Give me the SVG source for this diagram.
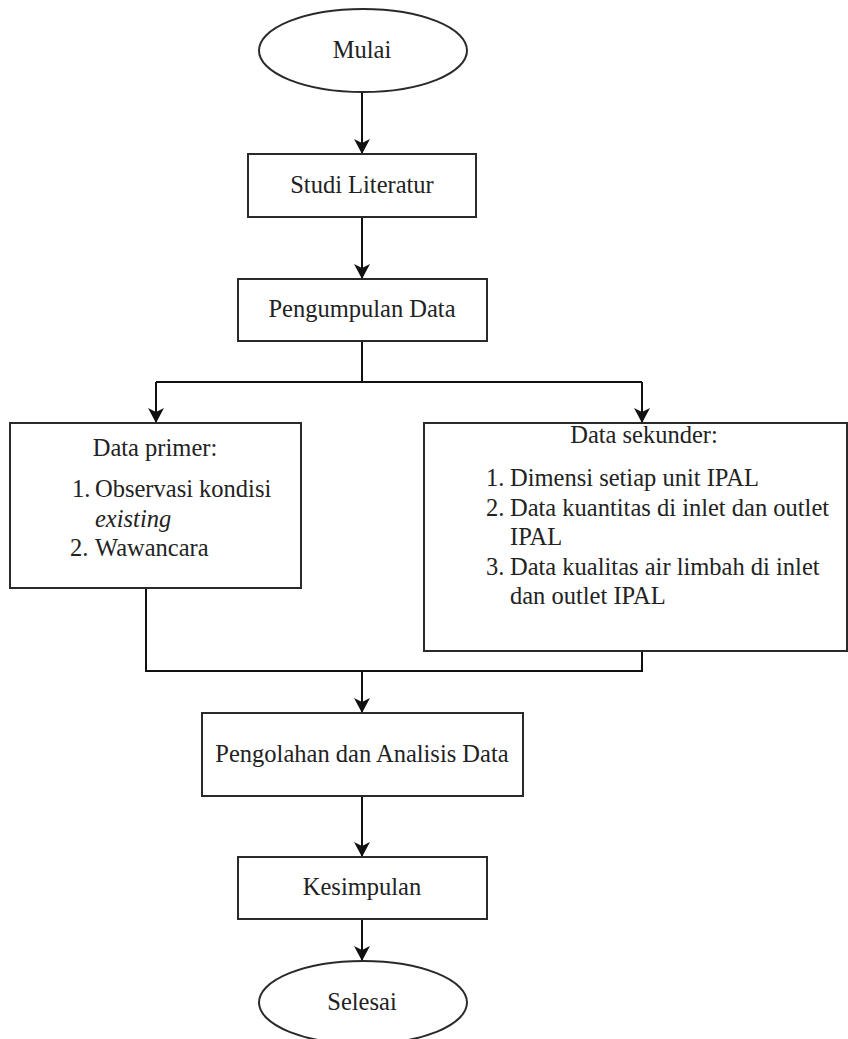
<svg xmlns="http://www.w3.org/2000/svg" width="848" height="1039" viewBox="0 0 848 1039">
  <style>
    .shape { fill: #ffffff; stroke: #2a2a2a; stroke-width: 2; }
    .wire { fill: none; stroke: #111111; stroke-width: 2; }
    .lbl { font-size: 24.5px; fill: #222222; }
    .mid { text-anchor: middle; }
  </style>
  <defs>
    <marker id="head" markerUnits="userSpaceOnUse" markerWidth="16" markerHeight="18" refX="15" refY="8" orient="auto">
      <path d="M0,0 L15,8 L0,16 L4,8 Z" fill="#111111"/>
    </marker>
  </defs>
  <rect width="848" height="1039" fill="#ffffff"/>

  <!-- connectors -->
  <g id="connectors">
    <line class="wire" x1="362" y1="92" x2="362" y2="154" marker-end="url(#head)"/>
    <line class="wire" x1="362" y1="217" x2="362" y2="279" marker-end="url(#head)"/>
    <polyline class="wire" points="362,341 362,382"/>
    <polyline class="wire" points="156,382 642,382"/>
    <line class="wire" x1="156" y1="382" x2="156" y2="423" marker-end="url(#head)"/>
    <line class="wire" x1="642" y1="382" x2="642" y2="423" marker-end="url(#head)"/>
    <polyline class="wire" points="146,588 146,671 642,671 642,651"/>
    <line class="wire" x1="362" y1="671" x2="362" y2="713" marker-end="url(#head)"/>
    <line class="wire" x1="362" y1="796" x2="362" y2="857" marker-end="url(#head)"/>
    <line class="wire" x1="362" y1="919" x2="362" y2="961" marker-end="url(#head)"/>
  </g>

  <g font-family="Liberation Serif, Times New Roman, DejaVu Serif, serif">
    <g id="mulai">
      <ellipse class="shape" cx="363" cy="50.5" rx="104" ry="41.5"/>
      <text class="lbl mid" x="362" y="58">Mulai</text>
    </g>

    <g id="studi-literatur">
      <rect class="shape" x="248" y="154" width="228" height="63"/>
      <text class="lbl mid" x="362" y="193">Studi Literatur</text>
    </g>

    <g id="pengumpulan-data">
      <rect class="shape" x="238" y="279" width="249" height="62"/>
      <text class="lbl mid" x="362" y="317">Pengumpulan Data</text>
    </g>

    <g id="data-primer">
      <rect class="shape" x="10" y="423" width="291" height="165"/>
      <text class="lbl mid" x="155" y="456">Data primer:</text>
      <text class="lbl" x="72" y="497">1.</text>
      <text class="lbl" x="95" y="497">Observasi kondisi</text>
      <text class="lbl" x="95" y="527" font-style="italic">existing</text>
      <text class="lbl" x="70" y="556">2.</text>
      <text class="lbl" x="95" y="556">Wawancara</text>
    </g>

    <g id="data-sekunder">
      <rect class="shape" x="424" y="423" width="423" height="228"/>
      <text class="lbl mid" x="644" y="443">Data sekunder:</text>
      <text class="lbl" x="486" y="486">1.</text>
      <text class="lbl" x="510" y="486">Dimensi setiap unit IPAL</text>
      <text class="lbl" x="486" y="516">2.</text>
      <text class="lbl" x="510" y="516">Data kuantitas di inlet dan outlet</text>
      <text class="lbl" x="510" y="545">IPAL</text>
      <text class="lbl" x="486" y="575">3.</text>
      <text class="lbl" x="510" y="575">Data kualitas air limbah di inlet</text>
      <text class="lbl" x="510" y="604">dan outlet IPAL</text>
    </g>

    <g id="pengolahan">
      <rect class="shape" x="202" y="713" width="321" height="83"/>
      <text class="lbl mid" x="362" y="762">Pengolahan dan Analisis Data</text>
    </g>

    <g id="kesimpulan">
      <rect class="shape" x="238" y="857" width="249" height="62"/>
      <text class="lbl mid" x="362" y="895">Kesimpulan</text>
    </g>

    <g id="selesai">
      <ellipse class="shape" cx="363" cy="1002.5" rx="104" ry="41.5"/>
      <text class="lbl mid" x="362" y="1010">Selesai</text>
    </g>
  </g>
</svg>
